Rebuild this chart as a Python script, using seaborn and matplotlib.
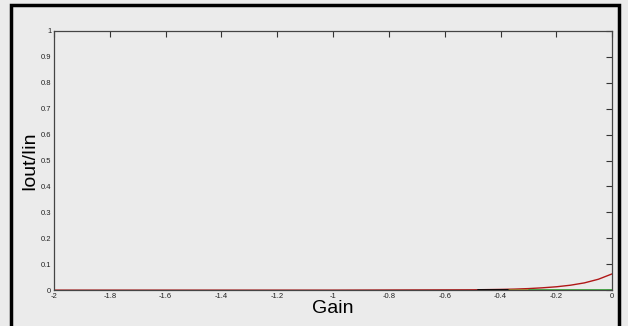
import matplotlib
matplotlib.use("Agg")
import matplotlib.pyplot as plt
import pandas as pd
import seaborn as sns
from matplotlib.patches import Rectangle

# transmission curve
gain = [-2.0, -1.0, -0.5, -0.45, -0.4, -0.35, -0.3, -0.25, -0.2, -0.15, -0.1, -0.05, 0.0]
ratio = [0.0, 0.0, 0.0013, 0.002, 0.0028, 0.004, 0.006, 0.009, 0.013, 0.019, 0.028, 0.042, 0.063]

# flat traces lying on the axis
black_x = [-0.48, -0.37]
black_y = [0.0, 0.0]
olive_x = [-0.37, -0.3]
olive_y = [0.0, 0.0]
green_x = [-0.3, 0.0]
green_y = [0.0, 0.0]

xticks = [-2, -1.8, -1.6, -1.4, -1.2, -1, -0.8, -0.6, -0.4, -0.2, 0]
yticks = [0, 0.1, 0.2, 0.3, 0.4, 0.5, 0.6, 0.7, 0.8, 0.9, 1]

sns.set_style("white")
plt.rcParams["font.family"] = ["Liberation Sans", "DejaVu Sans"]
bg = "#ebebeb"
fig = plt.figure(figsize=(6.28, 3.26), dpi=100, facecolor=bg)
ax = fig.add_axes([0.086, 0.110, 0.889, 0.795], facecolor=bg)

# outer frame of the screenshot
fig.patches.append(Rectangle((0.018, -0.05), 0.968, 1.035, transform=fig.transFigure,
                             fill=False, edgecolor="black", linewidth=2.5))

df = pd.DataFrame({"gain": gain, "ratio": ratio})
sns.lineplot(data=df, x="gain", y="ratio", color="#b01818", linewidth=1.0, ax=ax)
sns.lineplot(x=black_x, y=black_y, color="black", linewidth=1.3, ax=ax)
sns.lineplot(x=olive_x, y=olive_y, color="#a08a20", linewidth=1.1, ax=ax)
sns.lineplot(x=green_x, y=green_y, color="#20a020", linewidth=1.1, ax=ax)

ax.set_xlim(-2, 0)
ax.set_ylim(0, 1)
ax.set_xticks(xticks)
ax.set_xticklabels([f"{t:g}" for t in xticks])
ax.set_yticks(yticks)
ax.set_yticklabels([f"{t:g}" for t in yticks])
ax.tick_params(direction="in", length=4, width=0.8, labelsize=5.5, top=True, right=True,
               pad=2, colors="#333333", labelcolor="#222222")
for s in ax.spines.values():
    s.set_color("#444444")
    s.set_linewidth(0.9)

ax.set_xlabel("Gain", fontsize=14, labelpad=0, color="black")
ax.set_ylabel("Iout/Iin", fontsize=14, labelpad=2, color="black")

fig.savefig("out.png", dpi=100, facecolor=bg)
